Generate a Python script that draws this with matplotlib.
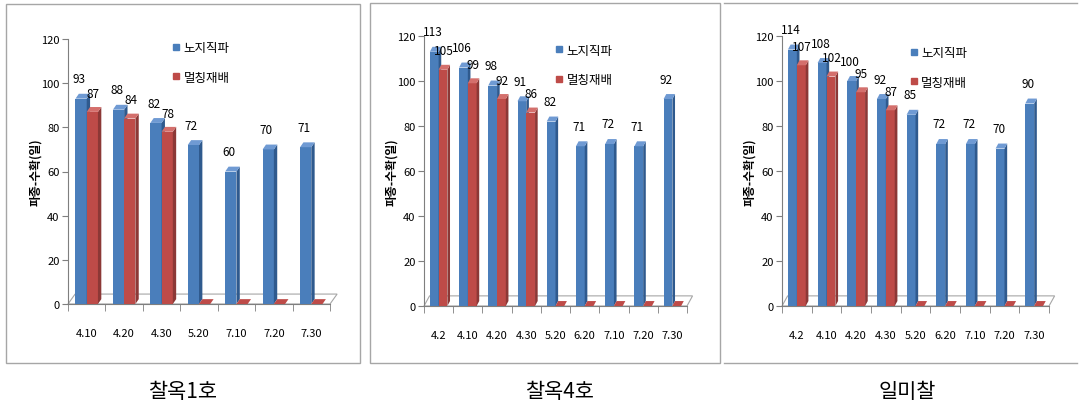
import matplotlib
matplotlib.use("Agg")
import matplotlib.pyplot as plt
from matplotlib.patches import Polygon, Rectangle
from matplotlib.lines import Line2D

plt.rcParams['font.family'] = ['Noto Sans CJK KR', 'DejaVu Sans']

# data
dates1 = ["4.10", "4.20", "4.30", "5.20", "7.10", "7.20", "7.30"]
open1 = [93, 88, 82, 72, 60, 70, 71]
mulch1 = [87, 84, 78, 0, 0, 0, 0]

dates2 = ["4.2", "4.10", "4.20", "4.30", "5.20", "6.20", "7.10", "7.20", "7.30"]
open2 = [113, 106, 98, 91, 82, 71, 72, 71, 92]
mulch2 = [105, 99, 92, 86, 0, 0, 0, 0, 0]

dates3 = ["4.2", "4.10", "4.20", "4.30", "5.20", "6.20", "7.10", "7.20", "7.30"]
open3 = [114, 108, 100, 92, 85, 72, 72, 70, 90]
mulch3 = [107, 102, 95, 87, 0, 0, 0, 0, 0]

titles = ["찰옥1호", "찰옥4호", "일미찰"]
series_names = ["노지직파", "멀칭재배"]

BLUE, BLUE_SIDE, BLUE_TOP = "#4A7EBB", "#2F5A8E", "#6F9AD3"
RED, RED_SIDE, RED_TOP = "#BE4B48", "#8C3836", "#D46F6C"

W = 0.30      # bar width (category units)
DX, DY = 0.09, 2.2    # bar depth
FDX, FDY = 0.19, 4.5  # floor depth


def bar3d(ax, x, v, front, side, top):
    if v > 0:
        ax.add_patch(Rectangle((x, 0), W, v, facecolor=front, edgecolor="none", zorder=3))
        ax.add_patch(Polygon([(x + W, 0), (x + W + DX, DY), (x + W + DX, v + DY), (x + W, v)],
                             closed=True, facecolor=side, edgecolor="none", zorder=3))
    ax.add_patch(Polygon([(x, v), (x + DX, v + DY), (x + W + DX, v + DY), (x + W, v)],
                         closed=True, facecolor=top if v > 0 else front,
                         edgecolor="none", zorder=3, clip_on=False))


def panel(rect, dates, blue, red, legend_xy):
    ax = fig.add_axes(rect)
    n = len(dates)
    ax.set_xlim(-0.5, n - 0.5)
    ax.set_ylim(0, 120)

    # floor
    floor = Polygon([(-0.5, 0), (n - 0.5, 0), (n - 0.5 + FDX, FDY), (-0.5 + FDX, FDY)],
                    closed=True, facecolor="white", edgecolor="#A6A6A6", lw=0.8,
                    zorder=1, clip_on=False)
    ax.add_patch(floor)

    for i in range(n):
        bar3d(ax, i - W, blue[i], BLUE, BLUE_SIDE, BLUE_TOP)
        bar3d(ax, i, red[i], RED, RED_SIDE, RED_TOP)
        ax.text(i - W / 2 - 0.05, blue[i] + 6, str(blue[i]), ha="center", va="bottom",
                fontsize=8.5, zorder=4)
        if red[i] > 0:
            ax.text(i + W / 2 + 0.02, red[i] + 5.5, str(red[i]), ha="center", va="bottom",
                    fontsize=8.5, zorder=4)

    for s in ("top", "right"):
        ax.spines[s].set_visible(False)
    for s in ("left", "bottom"):
        ax.spines[s].set_color("#7F7F7F")
        ax.spines[s].set_linewidth(0.8)

    ax.set_yticks(range(0, 121, 20))
    ax.tick_params(axis="y", labelsize=8, length=4, color="#7F7F7F", pad=2)
    ax.set_xticks(range(n))
    ax.set_xticklabels(dates, fontsize=8)
    ax.tick_params(axis="x", length=0, pad=17)
    ax.set_xticks([i - 0.5 for i in range(n + 1)], minor=True)
    ax.tick_params(axis="x", which="minor", length=5, color="#7F7F7F")

    ax.set_ylabel("파종-수확(일)", fontsize=8.5, fontweight="bold", labelpad=-1)

    handles = [Line2D([], [], marker="s", ls="none", color=BLUE, markersize=5),
               Line2D([], [], marker="s", ls="none", color=RED, markersize=5)]
    ax.legend(handles, series_names, loc="upper left", bbox_to_anchor=legend_xy,
              frameon=False, fontsize=9, handlelength=0.6, handletextpad=0.3,
              labelspacing=1.3, borderaxespad=0)
    return ax


fig = plt.figure(figsize=(10.85, 4.1), dpi=100)

H = 410.0
FW = 1085.0


def frac(x0, x1, ytop, ybot):
    return [x0 / FW, 1 - ybot / H, (x1 - x0) / FW, (ybot - ytop) / H]


panel(frac(68, 330, 40, 305), dates1, open1, mulch1, (0.38, 1.01))
panel(frac(424, 687, 37, 307), dates2, open2, mulch2, (0.48, 0.99))
panel(frac(782, 1049, 37, 307), dates3, open3, mulch3, (0.46, 0.98))

# panel frames
fig.patches.append(Rectangle((6 / FW, 1 - 364 / H), (360 - 6) / FW, (364 - 5) / H,
                             transform=fig.transFigure, fill=False, edgecolor="#A6A6A6", lw=1))
fig.patches.append(Rectangle((370 / FW, 1 - 364 / H), (720 - 370) / FW, (364 - 4) / H,
                             transform=fig.transFigure, fill=False, edgecolor="#A6A6A6", lw=1))
for yy in (4, 364):
    fig.add_artist(Line2D([724 / FW, 1077 / FW], [1 - yy / H, 1 - yy / H],
                          transform=fig.transFigure, color="#A6A6A6", lw=1))

for cx, t in zip([183, 559, 907], titles):
    fig.text(cx / FW, 1 - 392 / H, t, ha="center", va="center", fontsize=15)

fig.savefig("out.png", dpi=100)
